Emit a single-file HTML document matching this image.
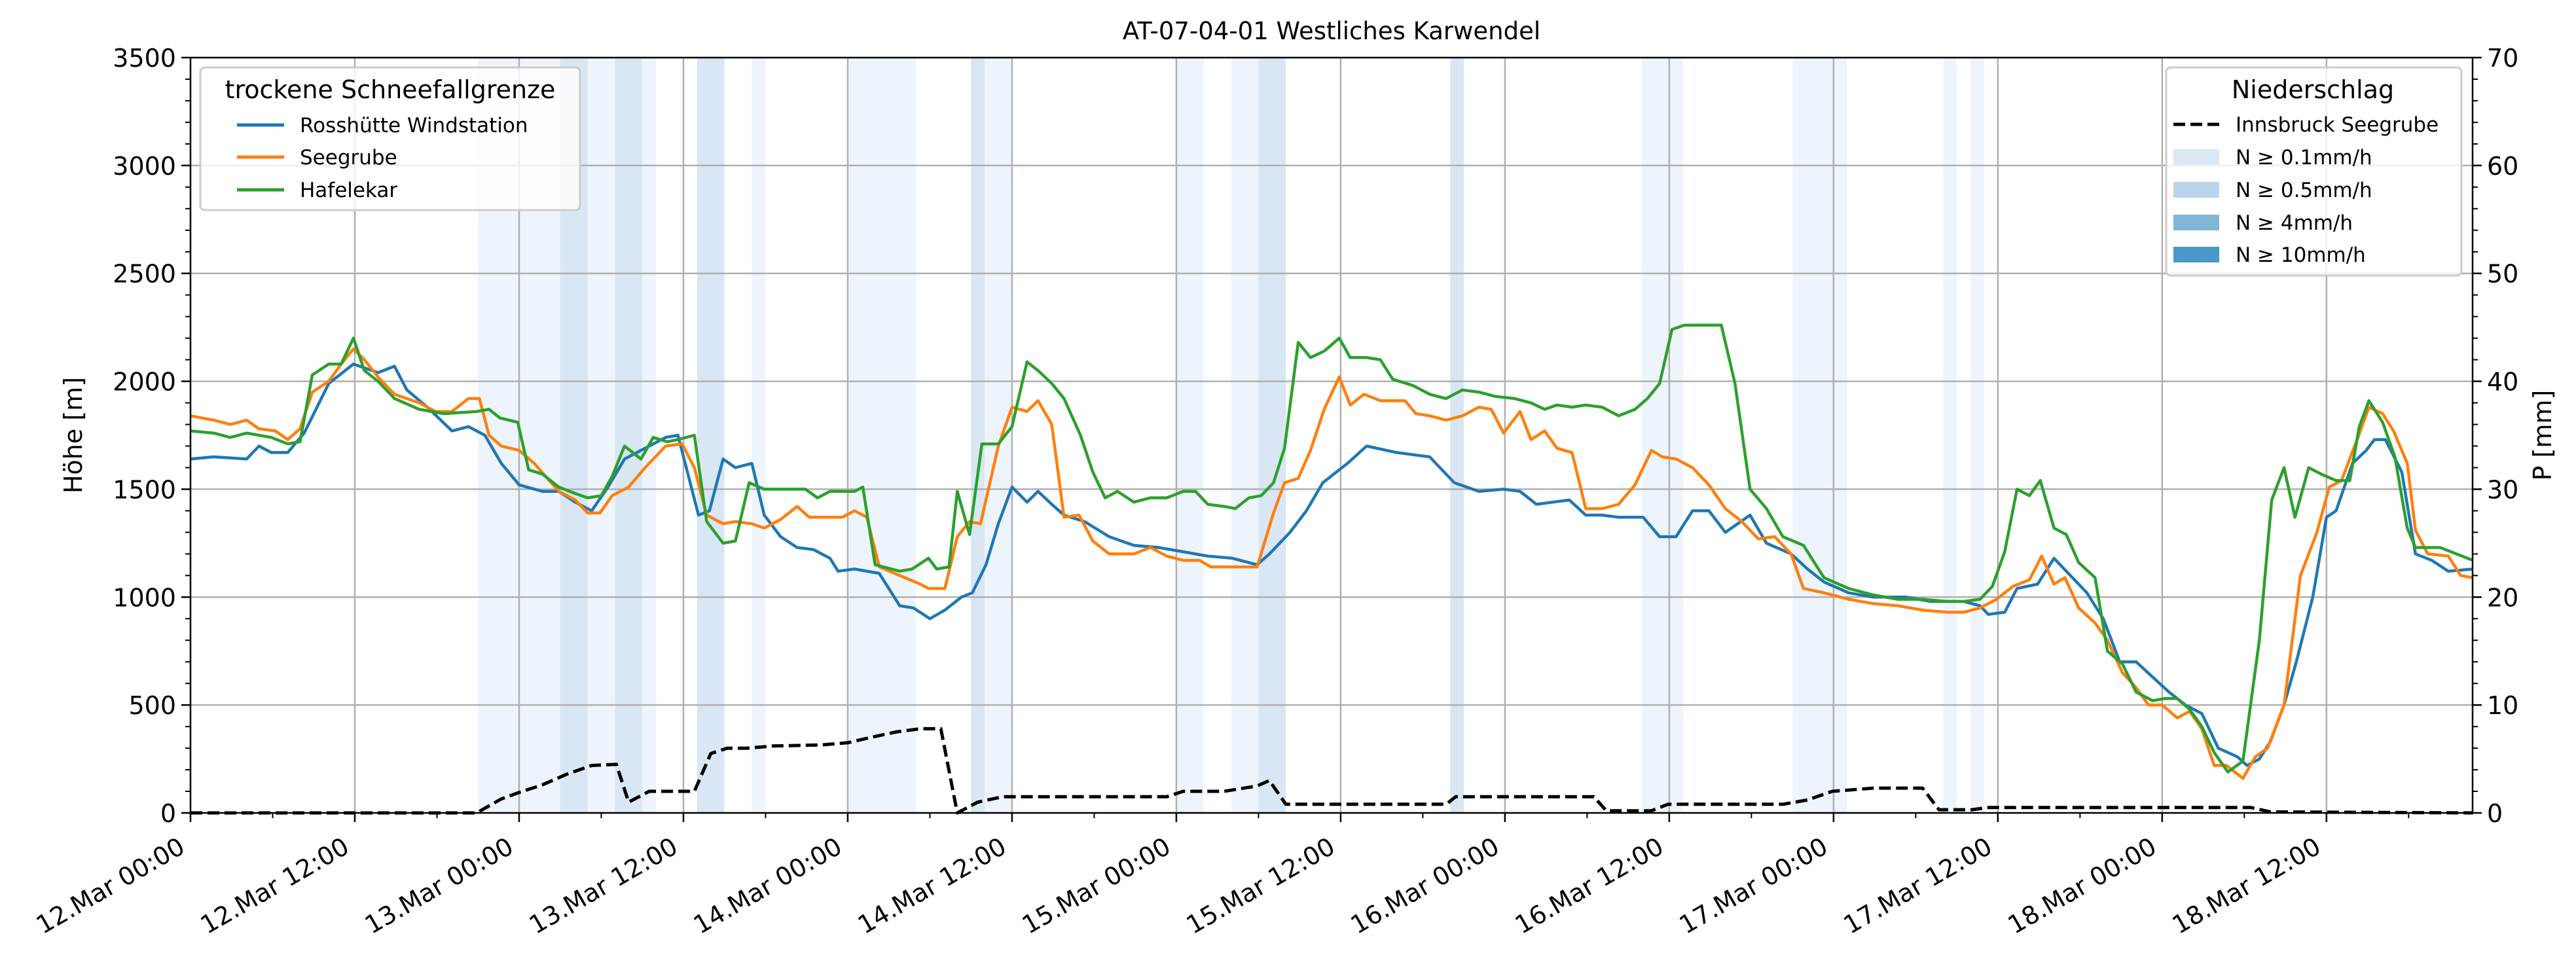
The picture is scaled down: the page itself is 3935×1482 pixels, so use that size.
<!DOCTYPE html>
<html><head><meta charset="utf-8"><style>
html,body{margin:0;padding:0;background:#fff}
svg text{font-family:"DejaVu Sans","Liberation Sans",sans-serif}
</style></head><body>
<svg id="chart" xmlns="http://www.w3.org/2000/svg" width="3935" height="1477" viewBox="0 0 3935 1477">
<rect width="3935" height="1477" fill="#fff"/>
<g id="bands"></g><g id="grid"></g><g id="series"></g><g id="axes"></g>
<text x="2034" y="60" font-size="37" text-anchor="middle">AT-07-04-01 Westliches Karwendel</text>
<text transform="translate(125,665) rotate(-90)" font-size="38" text-anchor="middle">Höhe [m]</text>
<text transform="translate(3897,665) rotate(-90)" font-size="38" text-anchor="middle">P [mm]</text>
<g>
<rect x="306" y="103" width="580" height="218" rx="7" fill="#fff" fill-opacity="0.8" stroke="#cccccc" stroke-width="3"/>
<text x="596" y="150" font-size="38" text-anchor="middle">trockene Schneefallgrenze</text>
<line x1="362" y1="191" x2="434" y2="191" stroke="#1f77b4" stroke-width="5"/>
<text x="458" y="202" font-size="31">Rosshütte Windstation</text>
<line x1="362" y1="240" x2="434" y2="240" stroke="#ff7f0e" stroke-width="5"/>
<text x="458" y="251" font-size="31">Seegrube</text>
<line x1="362" y1="290" x2="434" y2="290" stroke="#2ca02c" stroke-width="5"/>
<text x="458" y="301" font-size="31">Hafelekar</text>
</g>
<g>
<rect x="3309" y="103" width="451" height="318" rx="7" fill="#fff" fill-opacity="0.8" stroke="#cccccc" stroke-width="3"/>
<text x="3533" y="150" font-size="38" text-anchor="middle">Niederschlag</text>
<line x1="3320" y1="190" x2="3390" y2="190" stroke="#000" stroke-width="5" stroke-dasharray="18,8"/>
<text x="3415" y="201" font-size="31">Innsbruck Seegrube</text>
<rect x="3320" y="228" width="70" height="24" fill="#d9e8f5"/>
<text x="3415" y="251" font-size="31">N ≥ 0.1mm/h</text>
<rect x="3320" y="278" width="70" height="24" fill="#b9d5ea"/>
<text x="3415" y="301" font-size="31">N ≥ 0.5mm/h</text>
<rect x="3320" y="328" width="70" height="24" fill="#81b6d8"/>
<text x="3415" y="351" font-size="31">N ≥ 4mm/h</text>
<rect x="3320" y="377" width="70" height="24" fill="#4a98c9"/>
<text x="3415" y="400" font-size="31">N ≥ 10mm/h</text>
</g>
</svg>
<script>
// hours since 12.Mar 00:00
const xTickLabels = ["12.Mar 00:00","12.Mar 12:00","13.Mar 00:00","13.Mar 12:00","14.Mar 00:00","14.Mar 12:00","15.Mar 00:00","15.Mar 12:00","16.Mar 00:00","16.Mar 12:00","17.Mar 00:00","17.Mar 12:00","18.Mar 00:00","18.Mar 12:00"];
const yTicks = [0,500,1000,1500,2000,2500,3000,3500];
const y2Ticks = [0,10,20,30,40,50,60,70];
const bandStart = [21,27,29,31,33,37,41,48,57,58,72,76,78,92,106,117,128,130];
const bandEnd   = [27,29,31,33,34,39,42,53,58,60,74,78,80,93,109,121,129,131];
const bandLevel = [1,2,1,2,1,2,1,1,2,1,1,1,2,2,1,1,1,1];
const rossT = [0,1.7,4.1,5,5.9,7.1,8.3,10.1,11.9,13.7,14.9,15.8,17.3,19.1,20.3,21.5,22.7,24,25.7,26.9,28.1,29.3,30.5,31.7,33.5,34.7,35.6,37.1,37.9,38.9,39.8,41,41.9,43.1,44.3,45.5,46.7,47.3,48.5,50.3,51.8,52.8,54,55.1,56.3,57.1,58.1,59,60,61.1,61.9,62.9,63.8,65.3,67.1,68.9,70.7,72.5,74.3,76.1,77.9,78.8,80.3,81.5,82.7,84.5,85.9,88.1,90.5,92.3,94.1,95.9,97.1,98.3,99.5,100.7,101.9,103.1,104.3,106.1,107.3,108.5,109.7,110.9,112.1,113.9,115.1,116.9,118.1,119.3,121.1,122.9,125.3,127.1,129.5,130.7,131.3,132.5,133.4,134.9,136.1,137.3,138.5,139.7,140.9,142.1,143.3,144.5,145.7,146.9,148.1,149.5,150.2,151.1,151.9,152.9,153.8,155,156,156.7,157.9,158.9,159.5,160.3,161.5,162.5,163.7,164.9,166.7];
const rossV = [1640,1650,1640,1700,1670,1670,1760,1990,2080,2040,2070,1960,1880,1770,1790,1750,1620,1520,1490,1490,1440,1400,1510,1640,1700,1740,1750,1380,1400,1640,1600,1620,1380,1280,1230,1220,1180,1120,1130,1110,960,950,900,940,1000,1020,1150,1340,1510,1440,1490,1430,1380,1350,1280,1240,1230,1210,1190,1180,1150,1200,1300,1400,1530,1620,1700,1670,1650,1530,1490,1500,1490,1430,1440,1450,1380,1380,1370,1370,1280,1280,1400,1400,1300,1380,1250,1200,1130,1070,1020,1000,1000,980,980,960,920,930,1040,1060,1180,1100,1020,900,700,700,630,560,500,460,300,260,220,250,330,500,700,1000,1370,1400,1620,1680,1730,1730,1580,1200,1170,1120,1130];
const seeT = [0,1.7,2.9,4.1,5,6.2,7.1,8,8.9,10.1,11,11.9,12.7,13.7,14.9,16.7,17.9,19.1,20.3,21.1,21.8,22.7,24,25.1,26.9,28.1,29,29.9,30.8,32,33.2,34.7,35.9,36.8,37.7,38.9,39.8,41,41.9,43.1,44.3,45.2,46.4,47.6,48.5,49.4,50.3,51.8,53.3,53.9,55.1,56,56.9,57.7,59,60,61.1,61.9,62.9,63.8,64.9,65.9,67.1,68.9,70.1,71.3,72.5,73.7,74.5,76.1,77.9,79.1,79.9,80.9,81.8,82.8,83.9,84.7,85.7,86.9,88.7,89.5,90.5,91.7,92.9,94.1,95,95.9,97.1,97.9,98.9,99.8,100.9,101.9,103.1,104.3,105.5,106.7,107.5,108.5,109.7,110.9,112.1,113.3,114.5,115.7,116.9,117.8,119.3,121.1,122.9,124.7,126.5,128.3,129.5,130.7,131.9,133.1,134.3,135.2,136.1,136.9,137.9,139.1,140,141.1,142.1,143,144,145.1,146,146.9,147.8,148.7,149.9,150.8,151.7,152.9,154.1,155.3,156.2,157.1,158.3,159.1,160.1,160.9,161.9,162.5,163.4,164.9,165.8,166.7];
const seeV = [1840,1820,1800,1820,1780,1770,1730,1780,1950,2000,2080,2150,2100,2020,1940,1900,1860,1860,1920,1920,1750,1700,1680,1620,1490,1450,1390,1390,1470,1510,1600,1700,1710,1600,1380,1340,1350,1340,1320,1360,1420,1370,1370,1370,1400,1370,1140,1100,1060,1040,1040,1280,1350,1340,1700,1880,1860,1910,1800,1370,1380,1260,1200,1200,1230,1190,1170,1170,1140,1140,1140,1390,1530,1550,1680,1870,2020,1890,1940,1910,1910,1850,1840,1820,1840,1880,1870,1760,1860,1730,1770,1690,1670,1410,1410,1430,1520,1680,1650,1640,1600,1520,1410,1350,1270,1280,1200,1040,1020,990,970,960,940,930,930,950,990,1050,1080,1190,1060,1090,950,880,800,650,580,500,500,440,470,390,220,220,160,260,300,500,1100,1300,1510,1540,1740,1880,1850,1770,1620,1310,1200,1190,1100,1090];
const hafT = [0,1.7,2.9,4.1,5.9,7.1,8,8.9,10.1,11,11.9,12.7,13.7,14.9,16.7,18.5,20.9,21.8,22.6,23.9,24.7,25.7,26.9,28.1,29,30,30.8,31.7,32.9,33.8,34.8,35.6,36.8,37.7,38.9,39.8,40.8,41.9,44.9,45.8,46.7,48.5,49.1,50,51.8,52.7,53.9,54.5,55.4,56,56.9,57.8,59,60,61.1,61.9,62.9,63.8,65,65.9,66.8,67.7,68.9,70.1,71.3,72.5,73.4,74.3,75.5,76.3,77.3,78.2,79.1,79.9,80.9,81.8,82.8,83.9,84.7,85.9,86.9,87.8,89.3,90.5,91.7,92.9,94.1,95.3,96.7,97.9,98.9,99.8,100.9,101.9,103.1,104.3,105.5,106.4,107.3,108.2,109.1,110.9,111.8,112.8,113.9,115.1,116.3,117.8,119.3,121.1,122.9,124.7,126.5,128.3,129.5,130.7,131.6,132.5,133.4,134.3,135.1,136.1,137,137.9,139.1,140,141.1,142.1,143.3,144.2,145.1,146,146.9,147.8,148.8,149.9,151.1,152,152.9,153.7,154.7,155.6,156.7,157.7,158.4,159.1,160.1,161,161.9,162.5,164.3,165.5,166.7];
const hafV = [1770,1760,1740,1760,1740,1710,1720,2030,2080,2080,2200,2050,2000,1920,1870,1850,1860,1870,1830,1810,1590,1570,1510,1480,1460,1470,1560,1700,1640,1740,1720,1730,1750,1350,1250,1260,1530,1500,1500,1460,1490,1490,1510,1150,1120,1130,1180,1130,1140,1490,1290,1710,1710,1790,2090,2050,1990,1920,1750,1580,1460,1490,1440,1460,1460,1490,1490,1430,1420,1410,1460,1470,1530,1690,2180,2110,2140,2200,2110,2110,2100,2010,1980,1940,1920,1960,1950,1930,1920,1900,1870,1890,1880,1890,1880,1840,1870,1920,1990,2240,2260,2260,2260,1990,1500,1410,1280,1240,1090,1040,1010,990,990,980,980,990,1050,1210,1500,1470,1540,1320,1290,1160,1090,750,690,560,520,530,530,480,400,280,190,240,800,1450,1600,1370,1600,1570,1540,1540,1790,1910,1810,1650,1320,1230,1230,1200,1170];
const precT = [0,20.9,22.7,24,25.7,27.5,29.3,31.1,32,33.5,35.3,36.8,38,39.2,40.7,42.5,46.1,48,49.7,51.5,53.3,54.8,56,57.5,59.3,64.1,71.3,72.5,75.5,77.9,78.8,80,91.7,92.4,102.5,103.4,106.7,107.9,116.3,118.1,119.9,122.9,126.5,127.7,130.1,131.3,150.5,151.9,166.7];
const precV = [0,0,1.3,1.9,2.6,3.6,4.4,4.5,1,2,2,2,5.5,6,6,6.2,6.3,6.5,7,7.5,7.8,7.8,0,1,1.5,1.5,1.5,2,2,2.5,3,0.8,0.8,1.5,1.5,0.2,0.2,0.8,0.8,1.2,2,2.3,2.3,0.3,0.3,0.5,0.5,0.1,0];

const L=291,R=3777,T=88,B=1242,XMAX=166.67;
const NS="http://www.w3.org/2000/svg";
const xs=h=>L+h/XMAX*(R-L);
const ys=v=>B-v/3500*(B-T);
const y2s=v=>B-v/70*(B-T);
function mk(tag,attrs,parent){const e=document.createElementNS(NS,tag);for(const k in attrs)e.setAttribute(k,attrs[k]);parent.appendChild(e);return e;}
const gB=document.getElementById('bands'),gG=document.getElementById('grid'),gS=document.getElementById('series'),gA=document.getElementById('axes');

bandStart.forEach((s,i)=>{
  const r=mk('rect',{x:xs(s),y:T,width:xs(bandEnd[i])-xs(s),height:B-T,fill:bandLevel[i]==2?'#d8e7f3':'#eef4fb'},gB);
  
  
});
xTickLabels.forEach((lab,i)=>{
  const x=xs(i*12);
  if(i>0){const g=mk('line',{x1:x,y1:T,x2:x,y2:B,stroke:'#b0b0b0','stroke-width':2.5},gG);
  
  }
  mk('line',{x1:x,y1:B,x2:x,y2:B+14,stroke:'#000','stroke-width':2.5},gA);
  mk('line',{x1:xs(i*12+6),y1:B,x2:xs(i*12+6),y2:B+8,stroke:'#000','stroke-width':2},gA);
  const t=mk('text',{transform:`translate(${x-6},${B+59}) rotate(-30)`,'font-size':38,'text-anchor':'end'},gA);
  t.textContent=lab;
  
  
});
yTicks.forEach(v=>{
  const y=ys(v);
  if(v>0&&v<3500){const g=mk('line',{x1:L,y1:y,x2:R,y2:y,stroke:'#b0b0b0','stroke-width':2.5},gG);
  
  }
  mk('line',{x1:L-14,y1:y,x2:L,y2:y,stroke:'#000','stroke-width':2.5},gA);
  const t=mk('text',{x:L-22,y:y+14,'font-size':38,'text-anchor':'end'},gA);
  t.textContent=v;
  
  
});
for(let v=100;v<3500;v+=100){if(v%500)mk('line',{x1:L-8,y1:ys(v),x2:L,y2:ys(v),stroke:'#000','stroke-width':2},gA);}
y2Ticks.forEach(v=>{
  const y=y2s(v);
  mk('line',{x1:R,y1:y,x2:R+14,y2:y,stroke:'#000','stroke-width':2.5},gA);
  const t=mk('text',{x:R+22,y:y+14,'font-size':38},gA);
  t.textContent=v;
  
  
});
for(let v=2;v<70;v+=2){if(v%10)mk('line',{x1:R,y1:y2s(v),x2:R+8,y2:y2s(v),stroke:'#000','stroke-width':2},gA);}
const frame=mk('rect',{x:L,y:T,width:R-L,height:B-T,fill:'none',stroke:'#000','stroke-width':2.5},gA);



function line(ts,vs,sc,color,name,dash){
  const d=ts.map((t,i)=>(i?'L':'M')+xs(t).toFixed(1)+','+sc(vs[i]).toFixed(1)).join('');
  const p=mk('path',{d:d,fill:'none',stroke:color,'stroke-width':dash?5:4.5,'stroke-linejoin':'round'},gS);
  if(dash)p.setAttribute('stroke-dasharray','18,8');
  
  
}
line(rossT,rossV,ys,'#1f77b4','line-rosshuette');
line(seeT,seeV,ys,'#ff7f0e','line-seegrube');
line(hafT,hafV,ys,'#2ca02c','line-hafelekar');
line(precT,precV,y2s,'#000','line-precip-innsbruck',true);
</script>
</body></html>
